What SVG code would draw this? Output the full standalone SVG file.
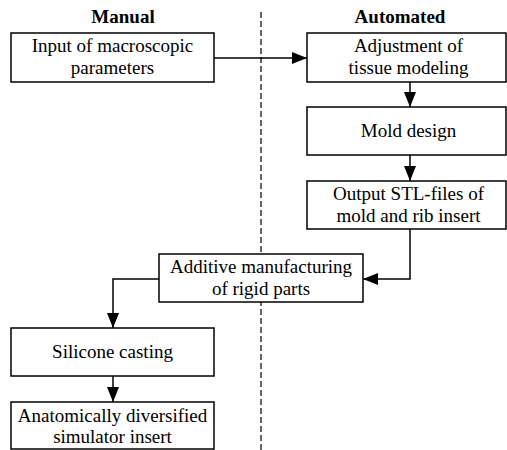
<svg xmlns="http://www.w3.org/2000/svg" width="507" height="450" viewBox="0 0 507 450">
<defs>
<style>
.box{fill:#fff;stroke:#000;stroke-width:1.5}
.t{font-family:'Liberation Serif',serif;font-size:19px;fill:#000;text-anchor:middle}
.h{font-family:'Liberation Serif',serif;font-size:19px;font-weight:bold;fill:#000;text-anchor:middle}
.c{fill:none;stroke:#000;stroke-width:1.5}
</style>
<marker id="ah" markerUnits="userSpaceOnUse" markerWidth="16" markerHeight="14" refX="15" refY="6" orient="auto">
<path d="M0,0 L15,6 L0,12 z" fill="#000"/>
</marker>
</defs>
<rect width="507" height="450" fill="#fff"/>
<line x1="261" y1="12" x2="261" y2="450" stroke="#333" stroke-width="1.5" stroke-dasharray="6,3"/>
<text class="h" x="123" y="23">Manual</text>
<text class="h" x="400" y="23">Automated</text>
<g id="connectors">
<path class="c" d="M214,58 H307" marker-end="url(#ah)"/>
<path class="c" d="M410,82 V107" marker-end="url(#ah)"/>
<path class="c" d="M410,155 V181" marker-end="url(#ah)"/>
<path class="c" d="M410,229 V279 H363" marker-end="url(#ah)"/>
<path class="c" d="M159,279 H113 V328" marker-end="url(#ah)"/>
<path class="c" d="M113,376 V402" marker-end="url(#ah)"/>
</g>
<g id="input">
<rect class="box" x="11" y="33" width="203" height="49"/>
<text class="t" x="112.5" y="52">Input of macroscopic</text>
<text class="t" x="112.5" y="74">parameters</text>
</g>
<g id="adjust">
<rect class="box" x="307" y="33" width="199" height="49"/>
<text class="t" x="408.5" y="52">Adjustment of</text>
<text class="t" x="408.5" y="74">tissue modeling</text>
</g>
<g id="mold">
<rect class="box" x="307" y="107" width="199" height="48"/>
<text class="t" x="408.5" y="137">Mold design</text>
</g>
<g id="output">
<rect class="box" x="307" y="181" width="199" height="48"/>
<text class="t" x="408.5" y="200">Output STL-files of</text>
<text class="t" x="408.5" y="222">mold and rib insert</text>
</g>
<g id="additive">
<rect class="box" x="159" y="254" width="204" height="48"/>
<text class="t" x="261" y="273">Additive manufacturing</text>
<text class="t" x="261" y="295">of rigid parts</text>
</g>
<g id="silicone">
<rect class="box" x="11" y="328" width="203" height="48"/>
<text class="t" x="112.5" y="358">Silicone casting</text>
</g>
<g id="anatomical">
<rect class="box" x="11" y="402" width="203" height="47"/>
<text class="t" x="112.5" y="422">Anatomically diversified</text>
<text class="t" x="112.5" y="443">simulator insert</text>
</g>
</svg>
